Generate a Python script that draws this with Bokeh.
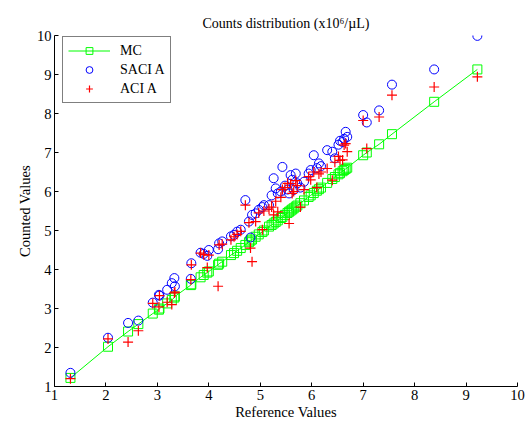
from bokeh.plotting import figure
from bokeh.models import FixedTicker, Legend, LegendItem, ColumnDataSource
from bokeh.embed import file_html
from bokeh.resources import INLINE

# Reference values and the three measured series
ref = [1.31, 2.04, 2.43, 2.63, 2.91, 3.03, 3.04, 3.19, 3.28, 3.33, 3.34, 3.65, 3.66,
       3.84, 3.90, 3.97, 4.00, 4.18, 4.20, 4.26, 4.43, 4.49, 4.55, 4.62, 4.71, 4.78,
       4.81, 4.84, 4.91, 4.97, 5.04, 5.07, 5.17, 5.22, 5.26, 5.30, 5.34, 5.40, 5.43,
       5.48, 5.53, 5.56, 5.59, 5.62, 5.65, 5.69, 5.72, 5.78, 5.85, 5.94, 5.98, 6.04,
       6.10, 6.14, 6.18, 6.30, 6.40, 6.45, 6.52, 6.55, 6.60, 6.63, 6.66, 6.69, 7.00,
       7.07, 7.31, 7.56, 8.38, 9.22]
mc = [1.22, 2.02, 2.41, 2.60, 2.87, 2.97, 3.00, 3.13, 3.22, 3.28, 3.31, 3.60, 3.62,
      3.80, 3.86, 3.92, 3.95, 4.12, 4.15, 4.20, 4.37, 4.42, 4.48, 4.55, 4.63, 4.70,
      4.74, 4.77, 4.84, 4.90, 4.96, 5.00, 5.10, 5.14, 5.18, 5.22, 5.26, 5.32, 5.35,
      5.40, 5.45, 5.48, 5.51, 5.54, 5.57, 5.61, 5.64, 5.70, 5.77, 5.86, 5.90, 5.96,
      6.02, 6.06, 6.10, 6.22, 6.32, 6.37, 6.44, 6.47, 6.52, 6.55, 6.58, 6.61, 6.93,
      7.00, 7.21, 7.47, 8.30, 9.13]
saci = [1.35, 2.25, 2.63, 2.69, 3.15, 3.35, 3.33, 3.48, 3.65, 3.78, 3.57, 3.76, 4.16,
        4.43, 4.40, 4.35, 4.50, 4.52, 4.67, 4.72, 4.85, 4.89, 4.97, 5.02, 5.78, 5.23,
        4.82, 5.40, 5.44, 5.53, 5.60, 5.65, 5.65, 5.90, 6.34, 6.08, 5.95, 6.00, 6.63,
        6.15, 6.05, 5.95, 6.42, 6.30, 6.04, 6.46, 6.21, 6.10, 6.25, 6.46, 6.55, 6.93,
        6.60, 6.72, 6.65, 7.06, 7.02, 6.85, 7.20, 7.30, 7.27, 7.35, 7.53, 7.40, 7.96,
        7.77, 8.08, 8.74, 9.13, 9.99]
aci = [1.20, 2.22, 2.14, 2.43, 3.13, 3.04, 3.33, 3.16, 3.10, 3.40, 3.42, 3.74, 4.12,
       4.42, 4.38, 4.05, 4.37, 3.57, 4.63, 4.65, 4.76, 4.84, 4.90, 4.98, 5.65, 5.20,
       4.55, 4.20, 5.23, 5.45, 5.02, 5.50, 5.55, 5.60, 5.40, 5.75, 5.48, 5.85, 6.05,
       6.10, 6.21, 5.18, 6.20, 5.95, 6.00, 6.28, 6.15, 5.60, 6.05, 6.38, 6.30, 6.50,
       6.10, 6.45, 6.50, 6.59, 6.29, 6.75, 6.90, 6.80, 6.81, 7.19, 7.23, 7.02, 7.82,
       7.10, 7.91, 8.47, 8.68, 8.94]
ticks = [1, 2, 3, 4, 5, 6, 7, 8, 9, 10]

FONT = "Liberation Serif"

src = ColumnDataSource(dict(ref=ref, mc=mc, saci=saci, aci=aci))

p = figure(width=525, height=422, x_range=(1, 10), y_range=(1, 10),
           output_backend="svg", toolbar_location=None,
           min_border_left=54, min_border_right=8, min_border_top=35,
           min_border_bottom=35)

p.title.text = "Counts distribution (x10\u2076/\u00b5L)"
p.title.align = "center"
p.title.text_font = FONT
p.title.text_font_size = "14px"
p.title.text_font_style = "normal"
p.title.text_color = "black"

p.outline_line_color = None
p.xgrid.visible = False
p.ygrid.visible = False

for ax in (p.xaxis[0], p.yaxis[0]):
    ax.ticker = FixedTicker(ticks=ticks)
    ax.major_tick_in = 4
    ax.major_tick_out = 0
    ax.minor_tick_line_color = None
    ax.axis_line_color = "black"
    ax.major_tick_line_color = "black"
    ax.major_label_text_font = FONT
    ax.major_label_text_font_size = "14.6px"
    ax.major_label_text_color = "black"
    ax.axis_label_text_font = FONT
    ax.axis_label_text_font_size = "14.6px"
    ax.axis_label_text_font_style = "normal"
    ax.axis_label_text_color = "black"
    ax.major_label_standoff = 3
    ax.axis_label_standoff = 1

p.xaxis.axis_label = "Reference Values"
p.yaxis.axis_label = "Counted Values"

green = "#00ff00"
line_r = p.line("ref", "mc", source=src, line_color=green, line_width=1)
sq_r = p.scatter("ref", "mc", source=src, marker="square", size=9,
                 line_color=green, fill_color=None, line_width=1)
ci_r = p.scatter("ref", "saci", source=src, marker="circle", size=9,
                 line_color="#0000ff", fill_color=None, line_width=1)
cr_r = p.scatter("ref", "aci", source=src, marker="cross", size=10,
                 line_color="#ff0000", line_width=1.2)

legend = Legend(items=[
    LegendItem(label="MC", renderers=[line_r, sq_r]),
    LegendItem(label="SACI A", renderers=[ci_r]),
    LegendItem(label="ACI A", renderers=[cr_r]),
], location=(8, 283))
legend.border_line_color = "black"
legend.border_line_width = 1
legend.background_fill_color = "white"
legend.background_fill_alpha = 1
legend.label_text_font = FONT
legend.label_text_font_size = "14px"
legend.label_text_color = "black"
legend.glyph_width = 42
legend.glyph_height = 17
legend.label_height = 17
legend.spacing = 2
legend.padding = 5
legend.margin = 0
legend.label_standoff = 10
p.add_layout(legend)

open("out.html", "w").write(file_html(p, INLINE))
